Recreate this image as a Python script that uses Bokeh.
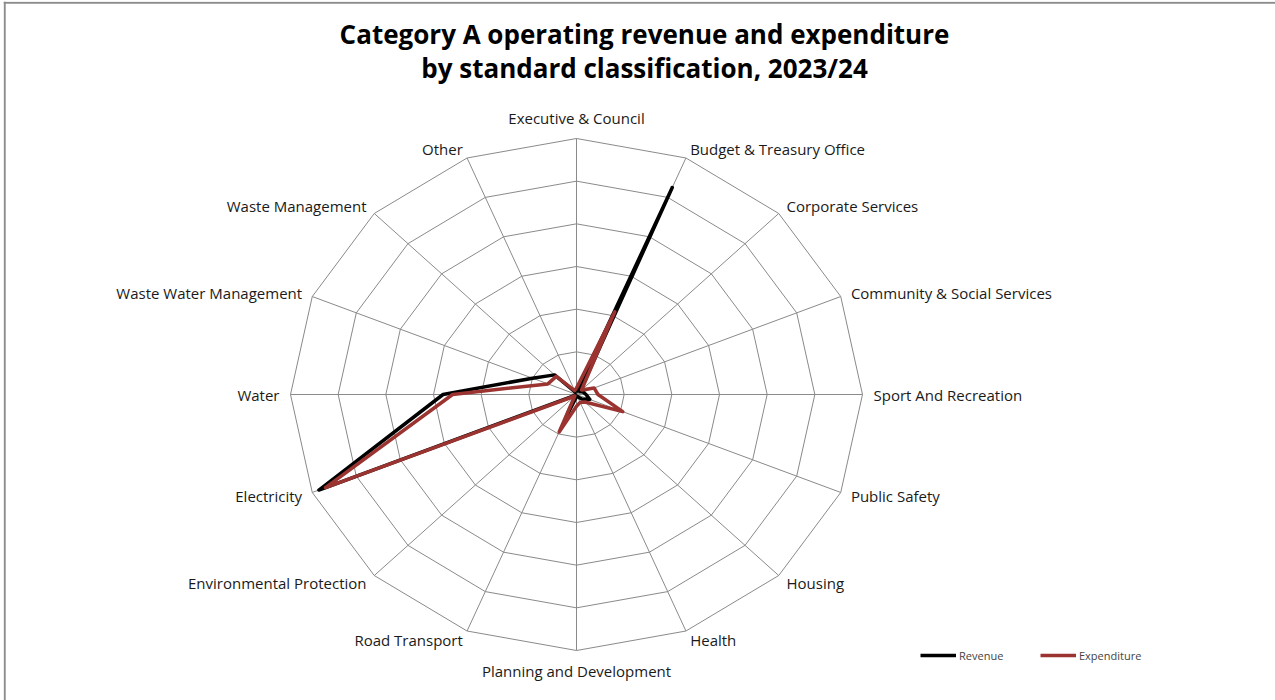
import math
from bokeh.plotting import figure
from bokeh.models import Label, Legend, LegendItem, Span
from bokeh.embed import file_html
from bokeh.resources import INLINE

# ---------------- data (R billion) ----------------
categories = [
    "Executive & Council", "Budget & Treasury Office", "Corporate Services",
    "Community & Social Services", "Sport And Recreation", "Public Safety",
    "Housing", "Health", "Planning and Development", "Road Transport",
    "Environmental Protection", "Electricity", "Water",
    "Waste Water Management", "Waste Management", "Other",
]
revenue = [1, 105, 2, 3, 4, 6, 3, 1, 1, 11, 0.5, 117, 56, 20, 13, 1]
expenditure = [3, 42, 3, 8, 9, 21, 5, 4, 5.5, 19, 1, 114, 52, 13, 12, 2]
ring_values = [20, 40, 60, 80, 100, 120]
title_lines = ["Category A operating revenue and expenditure",
               "by standard classification, 2023/24"]
series_names = ["Revenue", "Expenditure"]
series_colors = ["#000000", "#9B3330"]

# ---------------- geometry ----------------
W, H = 1275, 700
bl, bt = 3, 1                    # border offsets of the frame
cx_px, cy_px = 576 - bl, 394 - bt   # radar centre inside the frame
fw, fh = W - bl, H - bt
rmax = ring_values[-1]
px_x = 286 / rmax                # pixels per unit horizontally
px_y = 256 / rmax                # pixels per unit vertically

x0 = -cx_px / px_x
x1 = (fw - cx_px) / px_x
y1 = cy_px / px_y
y0 = -(fh - cy_px) / px_y

p = figure(width=W, height=H, x_range=(x0, x1), y_range=(y0, y1),
           output_backend="svg", toolbar_location=None,
           min_border_left=bl, min_border_top=bt, min_border_right=0,
           min_border_bottom=0, match_aspect=False)
p.axis.visible = False
p.grid.visible = False
p.outline_line_color = None
p.background_fill_color = "white"
p.border_fill_color = "white"

# chart-area border: only left and top edges are visible in the reference
p.add_layout(Span(location=x0 + 1.2 / px_x, dimension="height",
                  line_color="#8C8C8C", line_width=2))
p.add_layout(Span(location=y1 - 1.2 / px_y, dimension="width",
                  line_color="#8C8C8C", line_width=2))

n = len(categories)
angles = [2 * math.pi * i / n for i in range(n)]


def pt(v, a):
    return v * math.sin(a), v * math.cos(a)


# rings
ring_xs, ring_ys = [], []
for r in ring_values:
    xs = [pt(r, a)[0] for a in angles] + [pt(r, angles[0])[0]]
    ys = [pt(r, a)[1] for a in angles] + [pt(r, angles[0])[1]]
    ring_xs.append(xs)
    ring_ys.append(ys)
p.multi_line(ring_xs, ring_ys, line_color="#8A8A8A", line_width=1)

# spokes
sx = [pt(rmax, a)[0] for a in angles]
sy = [pt(rmax, a)[1] for a in angles]
p.segment(x0=[0] * n, y0=[0] * n, x1=sx, y1=sy, line_color="#8A8A8A", line_width=1)

# series
renderers = []
for vals, col in zip([revenue, expenditure], series_colors):
    xs = [pt(v, a)[0] for v, a in zip(vals, angles)] + [pt(vals[0], angles[0])[0]]
    ys = [pt(v, a)[1] for v, a in zip(vals, angles)] + [pt(vals[0], angles[0])[1]]
    r = p.line(xs, ys, line_color=col, line_width=3.5, line_join="round")
    renderers.append(r)

# category labels
for cat, a, x, y in zip(categories, angles, sx, sy):
    s, c = math.sin(a), math.cos(a)
    if abs(s) < 1e-6:
        align = "center"
        xo = 0
        yo = -21 if c > 0 else 20
    else:
        align = "left" if s > 0 else "right"
        xo = 11 * s
        yo = -10 * c
    p.add_layout(Label(x=x, y=y, text=cat, x_offset=xo, y_offset=-yo,
                       text_align=align, text_baseline="middle",
                       text_font="Open Sans", text_font_size="15px",
                       text_color="#1a1a1a"))

# title (positioned in data units above the radar)
tx = (644 - 576) / px_x
for i, line in enumerate(title_lines):
    ty = (394 - (33 + 34 * i)) / px_y
    p.add_layout(Label(x=tx, y=ty, text=line, text_align="center",
                       text_baseline="middle", text_font="Open Sans",
                       text_font_style="bold", text_font_size="26px",
                       text_color="black"))

# legend
for r, name, xloc in zip(renderers, series_names, [917, 1037]):
    lg = Legend(items=[LegendItem(label=name, renderers=[r])],
                location=(xloc, 35), orientation="horizontal",
                glyph_width=36, glyph_height=20, label_standoff=3,
                label_text_font="Open Sans", label_text_font_size="11px",
                padding=0, margin=0, border_line_alpha=0,
                background_fill_alpha=0, spacing=0)
    p.add_layout(lg, "center")

open("out.html", "w").write(file_html(p, INLINE))
